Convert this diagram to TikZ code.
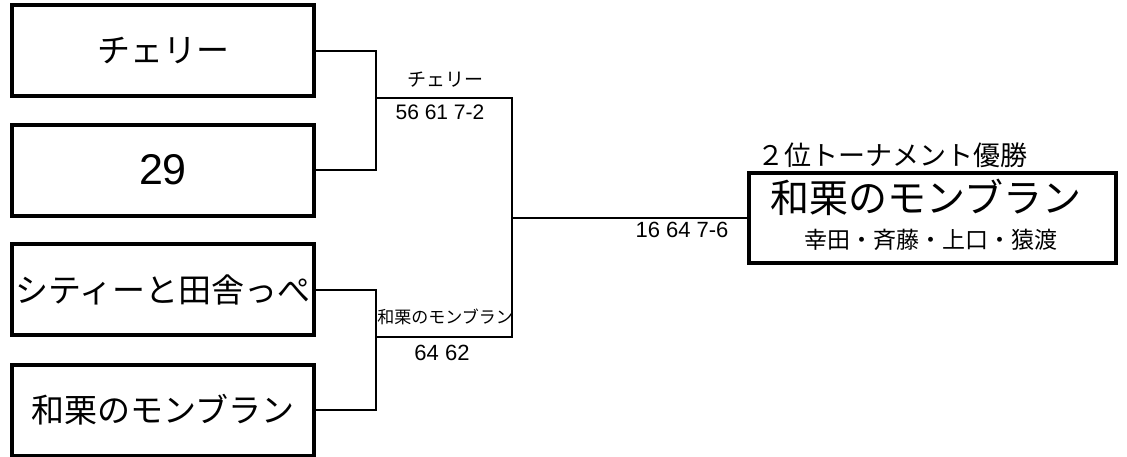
\documentclass[tikz,border=0pt]{standalone}
\usepackage{fontspec}
\newfontfamily\jp{Noto Sans CJK JP}
\newfontfamily\num{Liberation Sans}
\tikzset{
  team/.style={draw,line width=4pt,minimum width=302pt,minimum height=91pt,inner sep=0pt,font=\jp\fontsize{33}{36}\selectfont},
  wire/.style={line width=2pt},
  score/.style={inner sep=0pt,font=\num\fontsize{21}{24}\selectfont}
}
\begin{document}
\begin{tikzpicture}[x=1pt,y=-1pt]
\clip (0,0) rectangle (1127,456);
\node[team] (cherry) at (163,50.5) {チェリー};
\node[team,font=\num\fontsize{43}{46}\selectfont] (nine) at (163,170) {29};
\node[team] (city) at (163,289.5) {シティーと田舎っぺ};
\node[team] (waguri) at (163,410) {和栗のモンブラン};
\node[draw,line width=4pt,minimum width=367pt,minimum height=90pt,inner sep=0pt] (champ) at (932.5,218) {};
\node[inner sep=0pt,font=\jp\fontsize{39}{42}\selectfont] (champname) at (926,197) {和栗のモンブラン};
\node[inner sep=0pt,font=\jp\fontsize{23}{26}\selectfont] (members) at (931,240) {幸田・斉藤・上口・猿渡};
\node[inner sep=0pt,font=\jp\fontsize{27}{30}\selectfont] (title) at (892,155) {２位トーナメント優勝};
\coordinate (sf1) at (376,98);
\coordinate (sf2) at (376,337);
\coordinate (fin) at (512,218);
\draw[wire] (cherry.east) -| (sf1) |- (nine.east);
\draw[wire] (city.east) -| (sf2) |- (waguri.east);
\draw[wire] (sf1) -| (fin);
\draw[wire] (sf2) -| (fin);
\draw[wire] (fin) -- (champ.west);
\node[score,font=\jp\fontsize{19}{22}\selectfont] (w1) at (445,80) {チェリー};
\node[score] (s1) at (440,112) {56 61 7-2};
\node[score,font=\jp\fontsize{17}{19}\selectfont] (w2) at (445,317) {和栗のモンブラン};
\node[score,font=\num\fontsize{22}{24}\selectfont] (s2) at (442,353) {64 62};
\node[score,font=\num\fontsize{22}{24}\selectfont] (s3) at (682,230) {16 64 7-6};
\end{tikzpicture}
\end{document}
